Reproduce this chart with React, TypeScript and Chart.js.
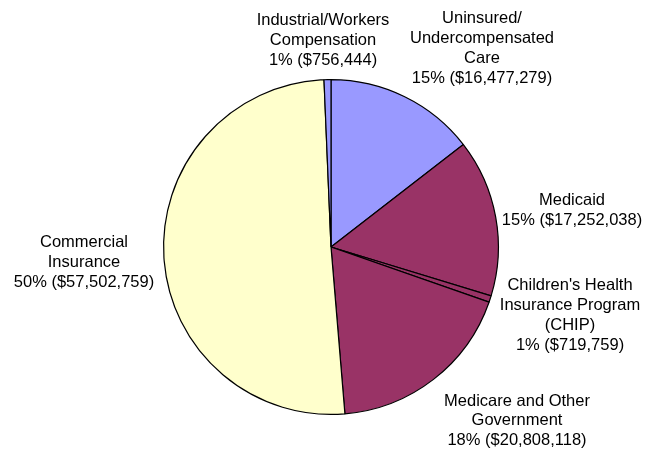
import React, { useEffect, useRef } from "react";
import { Chart, registerables } from "chart.js";

Chart.register(...registerables);

const categories = [
  ["Uninsured/", "Undercompensated", "Care"],
  ["Medicaid"],
  ["Children's Health", "Insurance Program", "(CHIP)"],
  ["Medicare and Other", "Government"],
  ["Commercial", "Insurance"],
  ["Industrial/Workers", "Compensation"],
];
const values = [16477279, 17252038, 719759, 20808118, 57502759, 756444];
const percents = ["15%", "15%", "1%", "18%", "50%", "1%"];
const colors = ["#9999FF", "#993366", "#993366", "#993366", "#FFFFCC", "#9999FF"];

// label text centre (offset from pie centre), first line y
const labelOffsets = [
  { dx: 151, dy: -229 },
  { dx: 241, dy: -47 },
  { dx: 239, dy: 38 },
  { dx: 186, dy: 154 },
  { dx: -247, dy: -5 },
  { dx: -8, dy: -227 },
];

const fmt = (v: number) => "$" + v.toLocaleString("en-US");

const labelPlugin = {
  id: "outerLabels",
  afterDatasetsDraw(chart: any) {
    const meta = chart.getDatasetMeta(0);
    const arc = meta.data[0];
    if (!arc) return;
    const cx = arc.x;
    const cy = arc.y;
    const ctx = chart.ctx;
    ctx.save();
    ctx.fillStyle = "#000";
    ctx.font = '16.5px "Liberation Sans", Arial, sans-serif';
    ctx.textAlign = "center";
    ctx.textBaseline = "middle";
    const lh = 20.3;
    categories.forEach((lines, i) => {
      const all = [...lines, `${percents[i]} (${fmt(values[i])})`];
      const o = labelOffsets[i];
      all.forEach((t, j) => {
        ctx.fillText(t, cx + o.dx, cy + o.dy + j * (i === 3 ? 19.5 : lh));
      });
    });
    ctx.restore();
  },
};

export default function App() {
  const ref = useRef<HTMLCanvasElement>(null);
  useEffect(() => {
    if (!ref.current) return;
    const chart = new Chart(ref.current, {
      type: "pie",
      data: {
        labels: categories.map((c) => c.join(" ")),
        datasets: [
          {
            data: values,
            backgroundColor: colors,
            borderColor: "#000000",
            borderWidth: 1.2,
          },
        ],
      },
      options: {
        responsive: false,
        animation: false,
        layout: { padding: { top: 79, bottom: 34, left: 7, right: 0 } },
        plugins: {
          legend: { display: false },
          tooltip: { enabled: false },
        },
      },
      plugins: [labelPlugin],
    });
    return () => chart.destroy();
  }, []);
  return (
    <div style={{ position: "fixed", left: 0, top: 0, width: 655, height: 449, background: "#fff" }}>
      <canvas ref={ref} width={655} height={449} style={{ width: 655, height: 449 }} />
    </div>
  );
}
